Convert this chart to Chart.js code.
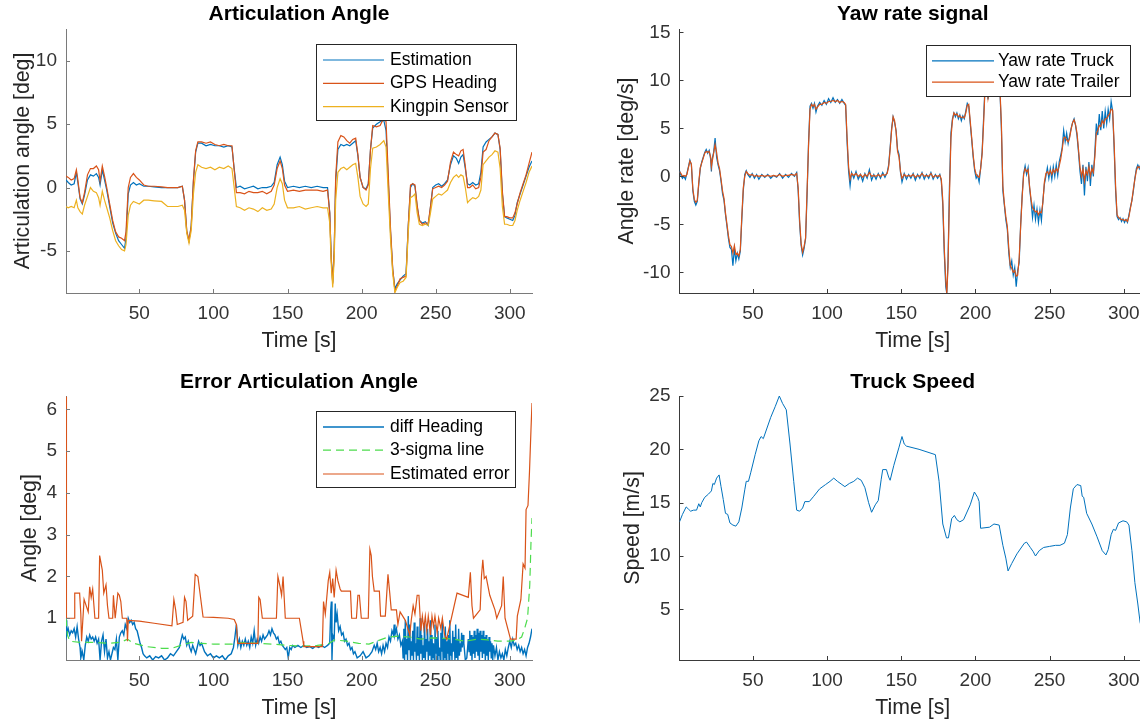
<!DOCTYPE html>
<html>
<head>
<meta charset="utf-8">
<script src="https://cdn.jsdelivr.net/npm/chart.js@4.4.0/dist/chart.umd.min.js"></script>
<style>
  html, body { margin: 0; padding: 0; background: #fff; }
  body { position: relative; width: 1140px; height: 722px; overflow: hidden; }
  canvas { position: absolute; }
</style>
</head>
<body>
<canvas id="angleChart" width="570" height="361" style="left:0;top:0"></canvas>
<canvas id="yawChart" width="590" height="361" style="left:570px;top:0"></canvas>
<canvas id="errorChart" width="570" height="361" style="left:0;top:361px"></canvas>
<canvas id="speedChart" width="590" height="361" style="left:570px;top:361px"></canvas>
<script>
// ---- data ----
const timeTicks = [50, 100, 150, 200, 250, 300];

// Articulation Angle
const angleTime = [0.5,2,4,6,7.5,8.5,10,11.5,13,15,
  17,19,21,22.5,23.5,25,26.5,28,30,32,
  34,36,38,40,41,42.5,44,46,48,50,
  53,56,60,65,69,72,76,79,80.5,82,
  83.5,85,86.5,88,89.5,92,95,98,101,104,
  107,110,112.5,114,115.5,118,121,124,127,130,
  133,136,139,141,143,145,146.5,148,150,154,
  158,162,166,170,174,177,178.5,179.5,180.5,181.5,
  182.5,184,186,188,190,192,194,196,197.5,199,
  201,203,204.5,206,207.5,210,212.5,215,216.5,218,
  219.5,221,222.5,224,226,228,230,231.5,233,234.5,
  236,237.5,239,241,243,245,246.5,248,250,252,
  254,256,258,260,262,264,265.5,267,268.5,270,
  271.5,273,275,277,279,280.5,282,284,286,288,
  290,292,293.5,295,296.5,298,300,302,303.5,305,
  307,309,311,313,315];
const angleEstimation = [0.6,0.4,0.2,0.3,1.2,0.4,-0.9,-1.3,-0.6,0.6,
  1.0,0.9,1.1,0.8,0.2,1.4,0.6,-0.2,-1.5,-2.8,
  -3.6,-4.2,-4.5,-4.8,-4.0,-0.5,0.2,0.4,0.2,0.3,
  0.1,0.1,0.05,0.0,0.0,0.0,0.0,0.1,-1.0,-3.5,
  -4.2,-3.0,0.5,2.8,3.5,3.5,3.3,3.4,3.3,3.3,
  3.2,3.3,3.2,1.5,0.0,0.1,-0.1,0.0,0.1,-0.1,
  0.0,0.0,0.1,0.4,1.8,2.4,1.8,0.5,0.0,0.1,
  0.0,0.1,0.0,0.1,0.0,0.0,-2.0,-5.5,-7.5,-5.0,
  0.5,3.0,3.4,3.3,3.4,3.3,3.5,3.7,2.5,0.8,
  0.0,-0.1,0.3,3.0,4.7,5.0,5.2,5.3,4.5,0.5,
  -3.5,-6.5,-8.0,-7.6,-7.3,-7.0,-6.8,-3.0,0.0,0.3,
  0.1,-1.5,-2.6,-2.8,-2.7,-3.0,-1.5,0.0,0.2,0.3,
  0.1,0.3,0.6,1.8,2.5,2.3,1.9,2.4,2.6,1.5,
  0.3,0.2,0.4,0.2,0.3,1.2,3.2,3.6,3.8,4.0,
  4.3,4.2,3.0,-0.5,-2.3,-2.4,-2.5,-2.6,-2.2,-1.2,
  -0.5,0.2,0.9,1.6,2.1];
const angleGps = [0.9,0.8,0.6,0.7,1.4,0.6,-0.8,-1.2,-0.4,1.0,
  1.5,1.5,1.7,1.4,0.5,1.7,0.9,0.0,-1.3,-2.6,
  -3.5,-3.9,-4.0,-4.2,-3.5,0.0,0.8,1.1,0.8,0.6,
  0.2,0.1,0.1,0.05,0.0,0.0,0.0,0.1,-1.0,-3.4,
  -4.2,-3.1,0.6,2.9,3.6,3.6,3.5,3.6,3.4,3.3,
  3.4,3.3,3.3,1.4,-0.4,-0.4,-0.5,-0.3,-0.4,-0.4,
  -0.3,-0.5,-0.3,0.2,1.5,2.1,1.5,0.2,-0.3,-0.2,
  -0.3,-0.2,-0.2,-0.2,-0.3,-0.2,-2.0,-5.6,-7.6,-5.0,
  0.8,3.6,4.1,4.0,3.7,3.5,3.8,3.9,2.6,0.8,
  0.0,-0.2,0.2,3.0,4.9,4.8,4.9,5.5,5.2,1.0,
  -3.2,-6.4,-8.2,-7.8,-7.2,-7.1,-7.0,-3.0,0.2,0.3,
  0.2,-1.4,-2.6,-2.9,-2.8,-2.8,-1.5,-0.1,0.0,0.1,
  0.0,0.2,0.5,2.0,2.8,2.6,2.5,2.9,3.0,1.7,
  0.0,0.0,0.2,-0.1,0.0,0.8,2.8,3.0,3.7,4.0,
  4.3,4.2,3.1,-0.3,-2.3,-2.3,-2.4,-2.4,-2.0,-1.3,
  -0.4,0.3,1.0,1.9,2.8];
const angleKingpin = [-1.5,-1.6,-1.5,-1.6,-1.0,-1.6,-1.9,-2.1,-1.4,-0.7,
  0.0,-0.3,-0.4,-0.8,-1.4,-0.3,-1.0,-1.6,-2.4,-3.4,
  -4.2,-4.6,-4.9,-5.0,-4.5,-2.2,-1.4,-1.1,-1.2,-1.3,
  -1.0,-1.0,-1.05,-1.1,-1.5,-1.5,-1.5,-1.4,-1.8,-3.6,
  -4.4,-3.4,-0.5,1.2,1.8,1.6,1.5,1.6,1.4,1.6,
  1.5,1.7,1.5,0.0,-1.5,-1.6,-1.8,-1.6,-1.7,-1.9,
  -1.6,-1.8,-1.7,-1.3,0.0,0.7,0.3,-1.0,-1.6,-1.6,
  -1.5,-1.7,-1.6,-1.5,-1.6,-1.6,-2.8,-6.0,-7.9,-5.6,
  -1.0,1.2,1.5,1.6,1.4,1.6,1.8,1.9,0.8,-0.7,
  -1.3,-1.5,-1.3,1.5,3.1,3.2,3.4,3.7,3.2,-0.5,
  -4.0,-6.8,-8.3,-7.9,-7.5,-7.4,-7.1,-3.5,-0.8,-0.7,
  -0.5,-2.0,-2.9,-3.0,-2.9,-3.0,-2.0,-0.9,-0.7,-0.5,
  -0.6,-0.4,-0.2,0.4,0.8,1.0,0.8,1.0,0.9,0.0,
  -1.2,-1.0,-0.8,-0.9,-0.7,-0.2,1.8,2.1,2.4,2.6,
  2.9,2.8,1.5,-1.5,-2.9,-2.9,-3.0,-3.0,-2.6,-1.8,
  -1.0,-0.3,0.4,1.2,1.7];
const angleTicks = [-5, 0, 5, 10];

// Yaw rate signal
const yawTime = [0.5,1.5,2.5,3.5,4.5,5.5,6.5,7.5,8.5,9.5,
  10.5,11.5,12.5,13.5,14.5,15.5,16.5,17.5,18.5,19.5,
  20.5,21.5,22,22.5,23.5,24.5,25.5,26.5,27.5,28.5,
  29.5,30.5,31.5,32.5,33.5,34.5,35.5,36.5,37.5,38.5,
  39.5,40.5,41.5,42.5,43.5,44.5,45.5,46.5,48,49.5,
  51,52.5,54,56,58,60,62,64,66,68,
  70,72,74,76,78,79.5,80.5,81.5,82.5,83.5,
  84.5,85.5,86.5,87.5,88.5,89.5,90.5,91.5,92.5,93.5,
  95,96.5,98,99.5,101,102.5,104,105.5,107,108.5,
  110,111.5,112.5,113.5,114.5,115.5,116.5,118,119.5,121,
  122.5,124,125.5,127,128.5,130,131.5,133,134.5,136,
  137.5,139,140.5,141.5,142.5,143.5,144.5,145.5,146.5,147.5,
  148.5,149.5,150.5,152,153.5,155,156.5,158,159.5,161,
  162.5,164,165.5,167,168.5,170,171.5,173,174.5,176,
  177,178,179,180,180.7,181.5,182.5,183.5,184.5,185.5,
  186.5,187.5,188.5,189.5,190.5,191.5,192.5,193.5,194.5,195.5,
  196.5,197.5,198.5,199.5,200.5,201.5,202.5,203.5,204.5,205.5,
  206.5,207.5,208.5,209.5,211,213,215,216.5,217.5,218.5,
  219.5,220.5,221.5,222.5,223.5,224.5,225.5,226.5,227.5,228.5,
  229.5,230.5,231.5,232.5,233.5,234.5,235.5,236.5,237.5,238.5,
  239.5,240.5,241.5,242.5,243.5,244.5,245.5,246.5,247.5,248.5,
  249.5,250.5,251.5,252.5,253.5,254.5,255.5,256.5,257.5,258.5,
  259.5,260.5,261.5,262.5,263.5,264.5,265.5,266.5,267.5,268.5,
  269.5,270.5,271.5,272.5,273.5,274.5,275.5,276.5,277.5,278.5,
  279.5,280.5,281.5,282.5,283.5,284.5,285.5,286.5,287.5,288.5,
  289.5,290.5,291.5,292.5,293.5,294.5,295.5,296.5,297.5,298.5,
  299.5,300.5,301.5,302.5,303.5,304.5,305.5,306.5,307.5,308.5,
  309.5,310.5,311.5,313,315];
const yawTruck = [0.6,0.1,-0.2,0.0,-0.3,0.3,1.0,1.7,1.2,-1.5,
  -2.6,-3.0,-2.6,-0.8,0.8,1.5,2.0,2.5,2.8,2.4,
  2.7,1.8,0.5,1.8,2.5,4.0,2.0,1.2,0.6,-0.5,
  -1.8,-2.5,-4.0,-5.2,-6.5,-7.4,-7.6,-9.3,-7.5,-8.8,
  -8.0,-8.6,-7.8,-4.5,-1.5,0.2,0.6,0.2,-0.1,0.3,
  -0.2,0.2,-0.3,0.2,-0.1,0.2,-0.2,0.1,-0.1,0.3,
  -0.2,0.2,-0.1,0.3,0.0,0.4,-1.5,-5.0,-7.2,-8.2,
  -7.5,-6.5,-2.0,3.5,7.3,7.6,7.1,7.6,6.7,7.3,
  7.7,7.4,7.9,7.5,8.1,7.7,8.2,7.7,8.0,7.6,
  8.0,7.6,7.4,3.5,0.5,-1.0,0.4,-0.2,0.5,-0.3,
  0.2,-0.5,0.3,-0.2,0.7,-0.4,0.2,-0.3,0.3,-0.2,
  0.4,-0.1,0.4,1.2,3.0,5.0,6.2,5.6,4.8,2.8,
  2.3,0.4,-0.6,0.3,-0.3,0.2,-0.2,0.3,-0.4,0.2,
  -0.2,0.4,-0.3,0.2,-0.2,0.4,-0.3,0.2,-0.2,0.2,
  -0.5,-3.0,-8.0,-11.5,-12.2,-9.0,-1.0,4.5,6.0,6.6,
  6.2,6.6,6.0,6.4,5.8,6.3,6.0,6.8,7.6,7.3,
  5.5,3.8,2.0,0.6,-0.2,0.1,-0.6,0.8,2.5,6.0,
  9.5,10.5,8.0,9.5,10.5,11.0,10.5,9.0,5.0,-1.5,
  -3.0,-4.5,-5.5,-8.0,-9.5,-8.8,-10.3,-9.5,-11.5,-9.8,
  -9.0,-5.0,-2.0,0.3,1.1,0.2,0.9,-1.2,-2.6,-4.3,
  -3.0,-4.5,-3.4,-4.8,-3.5,-4.6,-2.5,-0.8,0.0,0.9,
  -0.2,0.8,-0.3,1.0,0.0,1.2,0.1,1.5,2.2,3.0,
  4.8,3.6,4.5,3.4,4.2,5.0,5.6,6.0,5.3,4.2,
  2.5,0.5,-0.8,1.2,-2.0,1.0,-0.5,1.5,-1.0,1.2,
  0.0,2.5,5.5,4.3,6.5,4.8,6.8,5.0,6.8,5.5,
  7.0,6.0,7.8,6.8,3.0,-1.5,-4.2,-4.5,-4.3,-4.7,
  -4.4,-4.8,-4.5,-4.8,-4.0,-3.2,-2.5,-1.5,-0.2,0.8,
  1.2,0.8,1.3,1.0,1.2];
const yawTrailer = [0.5,0.3,0.0,0.1,0.0,0.2,0.9,1.6,1.3,-1.3,
  -2.4,-2.7,-2.5,-0.6,0.9,1.4,1.9,2.4,2.6,2.5,
  2.6,2.0,1.0,1.5,2.4,3.3,2.5,1.4,0.8,-0.3,
  -1.5,-2.3,-3.8,-5.0,-6.2,-7.1,-7.3,-8.0,-7.2,-8.1,
  -8.0,-8.3,-7.6,-4.2,-1.2,0.0,0.5,0.3,0.1,0.2,
  0.0,0.1,0.0,0.1,0.0,0.1,0.0,0.1,0.0,0.2,
  0.0,0.1,0.1,0.2,0.1,0.3,-1.2,-4.6,-7.0,-7.9,
  -7.3,-6.4,-1.5,3.2,7.0,7.5,7.3,7.5,7.0,7.2,
  7.5,7.5,7.7,7.6,7.8,7.8,7.9,7.8,7.9,7.7,
  7.8,7.7,7.5,4.0,1.0,-0.3,0.3,0.1,0.3,0.0,
  0.2,-0.1,0.2,0.0,0.4,0.0,0.1,0.0,0.2,0.0,
  0.2,0.1,0.3,1.0,2.8,4.8,6.2,5.8,4.7,2.6,
  2.0,0.5,-0.2,0.2,0.0,0.1,0.0,0.2,-0.1,0.1,
  0.0,0.3,0.0,0.1,0.0,0.3,-0.1,0.1,0.0,0.1,
  -0.3,-2.5,-7.5,-10.8,-12.2,-9.5,-2.0,4.0,5.8,6.6,
  6.4,6.5,6.2,6.3,6.1,6.2,6.1,6.6,7.4,7.5,
  5.8,4.0,2.2,0.8,0.2,0.0,-0.1,0.8,2.3,5.5,
  9.2,10.2,8.2,9.3,10.3,10.8,10.4,9.2,5.5,-1.0,
  -2.8,-4.2,-5.2,-7.5,-9.3,-9.6,-10.0,-9.8,-10.4,-10.3,
  -8.5,-5.2,-2.2,0.2,0.8,0.5,0.7,-1.0,-2.4,-3.3,
  -3.5,-3.7,-3.6,-4.0,-3.7,-3.8,-2.7,-0.6,0.3,0.5,
  0.2,0.6,0.2,0.7,0.4,0.8,0.5,1.1,1.8,2.8,
  4.0,4.1,3.8,3.6,4.0,4.9,5.6,5.9,5.4,4.5,
  2.8,1.0,0.0,0.8,-0.5,0.6,0.2,1.0,0.0,0.8,
  0.4,2.0,4.5,4.8,5.3,5.2,5.8,5.5,6.0,6.0,
  6.3,6.5,7.0,6.9,3.5,-1.0,-4.0,-4.3,-4.4,-4.5,
  -4.5,-4.6,-4.5,-4.7,-4.2,-3.3,-2.5,-1.3,-0.3,0.6,
  1.0,0.9,1.1,1.0,1.1];
const yawTicks = [-10, -5, 0, 5, 10, 15];

// Error Articulation Angle
const diffTime = [0.5,1,2,3,4,5,6,7,8,9,
  10,10.5,11.5,12.5,13.5,14.5,15.5,16.5,17.5,18.5,
  19.5,20.5,21.5,22.5,23.5,24.5,25.5,26.5,27.5,28.5,
  29.5,30.5,31.5,32.5,33.5,34.5,35.5,36.5,37.5,38.5,
  39.5,40.5,41.5,42.5,43.5,44.5,45.5,46.5,47.5,48.5,
  49.5,50.5,51.5,52.5,53.5,55,57,59,61,63,
  65,67,69,71,73,75,77,78,79,80,
  81,82,83,84,85,86,87,88,89,90,
  91,92,93,94,95,96,98,100,102,104,
  106,108,110,112,113.5,114.5,115.5,116.5,117.5,118.5,
  119.5,120.5,121.5,122.5,123.5,124.5,125.5,126.5,127.5,128.5,
  129.5,130.5,131.5,132.5,133.5,134.5,135.5,136.5,137.5,138.5,
  139.5,140.5,141.5,142.5,143.5,144.5,145.5,146.5,147.5,148.5,
  149.5,150.5,151.5,152.5,153.5,155,157,159,161,163,
  165,167,169,171,173,175,177,178.5,179.2,179.6,
  180,180.5,181.5,182.2,182.8,183.5,184.5,185.5,186.5,187.5,
  188.5,189.5,190.5,191.5,192.5,193.5,194.5,195.5,197,199,
  201,203,205,207,208.5,209.5,210.5,211.5,212.5,213.5,
  214.5,215.5,216.5,217.5,218.5,219.5,220.5,221.5,222,222.5,
  223.5,224.5,225.5,226.5,227.5,228,228.5,229,229.5,230,
  230.5,231,231.5,232,232.5,233,233.5,234,234.5,235,
  235.5,236,236.5,237,237.5,238,238.5,239,239.5,240,
  240.5,241,241.5,242,242.5,243,243.5,244,244.5,245,
  245.5,246,246.5,247,247.5,248,248.5,249,249.5,250,
  250.5,251,251.5,252,252.5,253,253.5,254,254.5,255,
  255.5,256,256.5,257,257.5,258,258.5,259,259.5,260,
  260.5,261,261.5,262,262.5,263,263.5,264,264.5,265,
  265.5,266,266.5,267,267.5,268,268.5,269,270,271,
  272,272.5,273,273.5,274,274.5,275,275.5,276,276.5,
  277,277.5,278,278.5,279,279.5,280,280.5,281,281.5,
  282,282.5,283,283.5,284,284.5,285,285.5,286,286.5,
  287,287.5,288,288.5,289,290,291,292,293,294,
  295,296,297,298,299,300,301,302,303,304,
  305,306,307,308,309,310,311,312,313,314,
  315];
const diffHeading = [0.95,0.6,0.75,0.6,0.7,0.65,0.75,0.55,0.8,0.5,
  0.3,0.05,0.2,0.0,0.35,0.55,0.45,0.6,0.5,0.55,
  0.45,0.55,0.4,0.5,0.0,0.45,0.6,0.2,0.5,0.05,
  0.2,0.0,0.15,0.3,0.25,0.5,0.0,0.55,0.65,0.7,
  0.6,0.85,0.75,1.0,0.9,0.95,0.85,0.9,0.75,0.7,
  0.55,0.4,0.3,0.15,0.1,0.05,0.1,0.0,0.08,0.05,
  0.1,0.0,0.05,0.15,0.1,0.2,0.3,0.45,0.6,0.5,
  0.55,0.35,0.45,0.3,0.2,0.35,0.25,0.15,0.3,0.45,
  0.35,0.4,0.3,0.2,0.15,0.1,0.15,0.05,0.1,0.05,
  0.1,0.0,0.1,0.15,0.3,0.55,0.85,0.35,0.5,0.3,
  0.45,0.35,0.5,0.35,0.45,0.3,0.55,0.4,0.7,0.35,
  0.5,0.4,0.55,0.45,0.6,0.5,0.55,0.6,0.7,0.6,
  0.75,0.65,0.6,0.5,0.55,0.4,0.45,0.35,0.3,0.25,
  0.3,0.05,0.3,0.25,0.35,0.3,0.35,0.3,0.35,0.3,
  0.32,0.28,0.33,0.3,0.35,0.3,0.35,0.4,1.2,1.4,
  0.0,0.6,0.5,1.35,0.9,1.1,0.7,0.8,0.6,0.65,
  0.45,0.5,0.35,0.4,0.25,0.3,0.15,0.2,0.05,0.1,
  0.2,0.05,0.1,0.2,0.35,0.25,0.4,0.2,0.3,0.15,
  0.35,0.2,0.4,0.3,0.55,0.45,0.7,0.6,0.85,0.6,
  0.75,0.5,0.6,0.35,0.45,0.05,0.75,0.0,0.95,0.15,
  0.5,0.0,1.05,0.25,0.85,0.0,0.45,0.1,0.7,0.0,
  0.9,0.2,0.4,0.0,0.8,0.1,0.55,0.0,1.0,0.15,
  0.6,0.0,0.35,0.05,0.9,0.0,0.5,0.2,0.75,0.0,
  0.45,0.1,0.95,0.0,0.6,0.05,0.4,0.0,0.85,0.15,
  0.55,0.0,0.7,0.1,0.3,0.0,0.65,0.2,0.9,0.0,
  0.5,0.05,0.8,0.0,0.45,0.15,0.6,0.0,0.95,0.1,
  0.4,0.0,0.7,0.2,0.55,0.0,0.85,0.05,0.5,0.0,
  0.75,0.1,0.4,0.2,0.65,0.3,0.6,0.4,0.0,0.05,
  0.5,0.2,0.7,0.1,0.6,0.0,0.55,0.15,0.7,0.05,
  0.6,0.2,0.75,0.1,0.65,0.0,0.7,0.2,0.6,0.05,
  0.7,0.15,0.55,0.0,0.6,0.1,0.5,0.0,0.55,0.2,
  0.45,0.05,0.4,0.0,0.35,0.1,0.3,0.0,0.2,0.05,
  0.15,0.0,0.25,0.1,0.3,0.45,0.3,0.5,0.35,0.4,
  0.25,0.35,0.2,0.3,0.15,0.25,0.1,0.3,0.4,0.55,
  0.75];
const sigmaTime = [0.5,1.5,3,10,20,30,38,42,46,55,
  65,72,78,85,92,100,115,120,130,140,
  150,160,170,177,182,190,198,205,210,218,
  225,232,240,248,255,262,270,278,285,292,
  300,305,308,310,312,313.5,314.3,315];
const sigmaLine = [1.0,0.6,0.45,0.42,0.42,0.4,0.43,0.5,0.4,0.32,
  0.28,0.28,0.35,0.42,0.4,0.38,0.38,0.42,0.4,0.38,
  0.35,0.33,0.35,0.38,0.48,0.45,0.4,0.38,0.45,0.55,
  0.57,0.55,0.5,0.53,0.52,0.5,0.45,0.5,0.48,0.45,
  0.45,0.48,0.55,0.75,1.0,1.8,2.8,3.4];
const errTime = [0.5,0.8,6,6.4,9.7,10.5,11,12.7,15.5,16.5,
  17.5,18.5,20,22.5,23.2,25,26,27.5,28.5,29.5,
  32,32.5,33.7,35.5,36.5,37.5,38.5,41.5,42,42.5,
  50,60,72,73.3,74.5,75.6,79.5,80.5,81.5,82.6,
  86,87.7,89.5,93,100,110,114,115.5,116.4,130,
  130.6,131.5,133,142.5,143.5,145,146,147,148.5,158,
  160.5,161,173.5,174.3,175.5,177.5,178.5,179.5,180.5,181.5,
  182.8,184,185.5,186.3,192.5,193.3,196.5,197.5,198.5,199.8,
  204.5,205.6,206.5,207.3,208.5,212,212.8,216,217.8,219,
  220,223.5,224.5,226,229.5,232.5,233.5,234.8,236,237.5,
  238.7,240,241,242,243,244,245,246.5,247.5,248.5,
  249.5,251,252,253.5,254.5,256,257.4,264.4,272,273.4,
  274.5,275.5,280,280.9,281.8,282.8,284,286.5,290,291.2,
  294.5,295.6,296.8,300.5,304.3,305.1,307.5,309,310.3,311,
  312.3,313.3,314.3,315];
const errEstimated = [6.3,1.0,1.0,1.6,1.6,1.1,0.45,1.45,1.15,1.75,
  1.5,1.7,1.0,1.0,2.5,2.15,1.6,1.8,1.3,1.0,
  1.0,1.55,1.0,1.6,1.55,1.4,1.0,1.0,0.45,0.95,
  0.93,0.88,0.82,1.45,1.2,0.85,0.9,1.5,1.4,0.95,
  1.05,2.05,2.0,1.03,1.02,1.0,0.97,0.85,0.4,0.4,
  1.5,1.45,1.0,1.0,2.0,1.75,1.55,2.0,1.0,1.0,
  0.45,0.32,0.32,1.4,1.1,1.9,2.1,1.6,1.95,1.5,
  2.15,1.9,1.7,1.65,1.65,1.0,1.0,1.55,1.55,1.0,
  1.0,2.65,2.5,2.0,1.65,1.65,1.05,1.05,2.05,1.6,
  1.2,1.2,0.85,1.15,0.95,0.6,0.95,1.3,1.1,1.55,
  1.55,0.7,1.05,0.75,1.05,0.7,1.05,0.6,1.05,0.8,
  1.05,0.65,1.0,0.75,1.0,0.6,0.5,1.6,1.5,2.1,
  1.3,1.0,1.2,2.0,2.4,1.95,2.0,1.55,1.2,1.0,
  1.3,2.0,1.0,0.5,0.5,1.05,1.45,2.3,2.2,3.6,
  3.7,4.5,5.5,6.15];
const errorTicks = [1, 2, 3, 4, 5, 6];

// Truck Speed
const speedTime = [0.5,2.5,5,6.5,8,10,12,13.5,14.5,15.5,
  17.5,20,22,23,24,25.5,27.2,28.5,30,31.5,
  33,34.5,36.5,38.5,40.5,42.5,44.5,45.5,47,48.5,
  51.5,54,55.5,57,59.5,62,65,67.8,70,72.5,
  75,77.5,79.5,81.5,83.5,85,88,91,95,99,
  102,104.5,107,110,112,115,118,120.5,123,125.5,
  128,130,132.5,134.5,136.5,137.5,140,141.5,142.5,145,
  148.5,150.5,152,153.5,162,173,175.5,178,180.5,181.8,
  184,185.8,187.5,189.5,192,196.5,199.3,201.5,202.5,203.5,
  209.5,212.5,216,218.5,220.5,222,224.5,228,233,234.5,
  237,239,240.5,243,246,250,254,257,260,262,
  264,266,268.5,271,272,273,275,278.5,282,285.5,
  288,289.5,291.5,293,294.5,296.5,299.5,302,303.5,305.5,
  307.5,309.5,311,315];
const speedVals = [13.2,13.9,14.6,14.4,14.2,14.3,14.3,14.9,14.6,15.0,
  15.5,15.8,16.1,16.8,16.7,17.3,17.6,16.5,15.3,14.0,
  13.9,13.1,12.9,12.8,13.2,14.5,16.2,17.0,17.0,17.8,
  19.5,20.8,21.2,21.0,22.0,23.0,24.0,25.0,24.3,23.7,
  20.5,17.0,14.3,14.2,14.5,15.1,15.1,15.6,16.3,16.7,
  17.0,17.3,17.0,16.7,16.5,16.8,17.0,17.3,17.1,16.4,
  15.0,14.1,14.8,15.2,17.2,18.1,18.1,17.4,17.1,18.5,
  20.2,21.2,20.5,20.3,20.0,19.5,17.0,13.0,11.7,11.7,
  13.5,13.8,13.4,13.2,13.4,14.8,16.0,15.5,15.1,12.6,
  12.7,13.0,12.9,11.0,9.8,8.6,9.3,10.2,11.2,11.3,
  10.8,10.4,10.0,10.5,10.8,10.9,11.0,11.0,11.2,12.0,
  14.5,16.3,16.7,16.6,15.6,15.5,14.0,13.0,11.8,10.5,
  10.1,10.6,12.0,12.5,12.4,13.1,13.3,13.2,12.9,10.5,
  7.5,5.5,3.8,1.5];
const speedTicks = [5, 10, 15, 20, 25];

// ---- helpers ----
const FONT = "'Liberation Sans', Arial, Helvetica, sans-serif";
Chart.defaults.font.family = FONT;
const BLUE = '#0072BD', ORANGE = '#D95319', YELLOW = '#EDB120', GREEN = '#4ddc4d';

function points(xs, ys) {
    return xs.map((x, i) => ({ x: x, y: ys[i] }));
}

// title centred over the plot area, like matlab does it
const panelTitle = {
    id: 'panelTitle',
    afterDraw(chart, args, opts) {
        const { ctx, chartArea } = chart;
        ctx.save();
        ctx.font = 'bold 21px ' + FONT;
        ctx.fillStyle = '#000';
        ctx.textAlign = 'center';
        ctx.textBaseline = 'middle';
        ctx.fillText(opts.text, (chartArea.left + chartArea.right) / 2, opts.y);
        ctx.restore();
    }
};

// small tick marks pointing into the axes
const innerTicks = {
    id: 'innerTicks',
    afterDatasetsDraw(chart, args, opts) {
        const { ctx, chartArea, scales } = chart;
        ctx.save();
        ctx.strokeStyle = opts.color;
        ctx.lineWidth = 1;
        ctx.beginPath();
        scales.x.ticks.forEach(t => {
            const px = Math.round(scales.x.getPixelForValue(t.value)) + 0.5;
            ctx.moveTo(px, chartArea.bottom);
            ctx.lineTo(px, chartArea.bottom - 4);
        });
        scales.y.ticks.forEach(t => {
            const py = Math.round(scales.y.getPixelForValue(t.value)) + 0.5;
            ctx.moveTo(chartArea.left, py);
            ctx.lineTo(chartArea.left + 4, py);
        });
        ctx.stroke();
        ctx.restore();
    }
};

// boxed legend inside the axes
const boxLegend = {
    id: 'boxLegend',
    afterDraw(chart, args, opts) {
        if (!opts.rows) return;
        const ctx = chart.ctx;
        ctx.save();
        ctx.fillStyle = '#fff';
        ctx.fillRect(opts.x, opts.y, opts.w, opts.h);
        ctx.strokeStyle = '#262626';
        ctx.lineWidth = 1;
        ctx.strokeRect(opts.x + 0.5, opts.y + 0.5, opts.w, opts.h);
        ctx.font = '17.5px ' + FONT;
        ctx.textBaseline = 'middle';
        chart.data.datasets.forEach((ds, i) => {
            const ry = opts.rows[i];
            ctx.strokeStyle = ds.borderColor;
            ctx.lineWidth = ds.borderWidth;
            ctx.setLineDash(ds.borderDash || []);
            ctx.beginPath();
            ctx.moveTo(opts.lx0, ry);
            ctx.lineTo(opts.lx1, ry);
            ctx.stroke();
            ctx.setLineDash([]);
            ctx.fillStyle = '#000';
            ctx.fillText(ds.label, opts.tx, ry);
        });
        ctx.restore();
    }
};

function line(label, xs, ys, color, order, extra) {
    return Object.assign({
        label: label,
        data: points(xs, ys),
        borderColor: color,
        borderWidth: 1.2,
        pointRadius: 0,
        tension: 0,
        fill: false,
        order: order
    }, extra || {});
}

function makeChart(id, o) {
    const ctx = document.getElementById(id).getContext('2d');
    return new Chart(ctx, {
        type: 'line',
        data: { datasets: o.datasets },
        plugins: [innerTicks, boxLegend, panelTitle],
        options: {
            responsive: false,
            animation: false,
            events: [],
            layout: {
                autoPadding: false,
                padding: { left: 0, right: o.padRight, top: o.padTop, bottom: 0 }
            },
            scales: {
                x: {
                    type: 'linear',
                    min: 0.5,
                    max: 315,
                    afterBuildTicks: s => { s.ticks = timeTicks.map(v => ({ value: v })); },
                    afterFit: s => { s.height = o.xHeight; },
                    grid: { display: false, drawTicks: false },
                    border: { display: true, color: o.axisColor, width: 1 },
                    ticks: { color: '#333', padding: 9, font: { size: 19 } },
                    title: {
                        display: true, text: 'Time [s]', color: '#262626',
                        font: { size: 21.3 }, padding: { top: 0, bottom: o.xTitlePad }
                    }
                },
                y: {
                    type: 'linear',
                    min: o.yMin,
                    max: o.yMax,
                    afterBuildTicks: s => { s.ticks = o.yTicks.map(v => ({ value: v })); },
                    afterFit: s => { s.width = o.yWidth; },
                    grid: { display: false, drawTicks: false },
                    border: { display: true, color: o.axisColor, width: 1 },
                    ticks: { color: '#333', padding: 9, font: { size: 19 } },
                    title: {
                        display: true, text: o.yLabel, color: '#262626',
                        font: { size: 21.3 }, padding: { top: o.yTitlePad, bottom: 0 }
                    }
                }
            },
            plugins: {
                legend: { display: false },
                tooltip: { enabled: false },
                panelTitle: { text: o.title, y: o.titleY },
                innerTicks: { color: o.axisColor },
                boxLegend: o.legend || {}
            }
        }
    });
}

// ---- the four panels ----
makeChart('angleChart', {
    title: 'Articulation Angle', titleY: 14.5,
    padTop: 29, padRight: 38, xHeight: 68, xTitlePad: 6.7,
    yWidth: 66, yTitlePad: 10, yLabel: 'Articulation angle [deg]',
    yMin: -8.33, yMax: 12.52, yTicks: angleTicks, axisColor: '#7a7a7a',
    datasets: [
        line('Estimation', angleTime, angleEstimation, BLUE, 2),
        line('GPS Heading', angleTime, angleGps, ORANGE, 1),
        line('Kingpin Sensor', angleTime, angleKingpin, YELLOW, 0)
    ],
    legend: { x: 316, y: 44, w: 200, h: 76, rows: [60, 83.3, 106.7], lx0: 323, lx1: 384, tx: 390 }
});

makeChart('yawChart', {
    title: 'Yaw rate signal', titleY: 14.5,
    padTop: 29, padRight: 14, xHeight: 68, xTitlePad: 6.7,
    yWidth: 109.5, yTitlePad: 44.5, yLabel: 'Angle rate [deg/s]',
    yMin: -12.15, yMax: 15.35, yTicks: yawTicks, axisColor: '#3a3a3a',
    datasets: [
        line('Yaw rate Truck', yawTime, yawTruck, BLUE, 1),
        line('Yaw rate Trailer', yawTime, yawTrailer, ORANGE, 0)
    ],
    legend: { x: 356, y: 45, w: 204, h: 51, rows: [60.8, 82.1], lx0: 362, lx1: 424, tx: 428 }
});

makeChart('errorChart', {
    title: 'Error Articulation Angle', titleY: 21,
    padTop: 35, padRight: 38, xHeight: 62, xTitlePad: 0.9,
    yWidth: 66, yTitlePad: 17.4, yLabel: 'Angle [deg]',
    yMin: 0, yMax: 6.32, yTicks: errorTicks, axisColor: '#7a7a7a',
    datasets: [
        line('diff Heading', diffTime, diffHeading, BLUE, 2, { borderWidth: 1.4 }),
        line('3-sigma line', sigmaTime, sigmaLine, GREEN, 1, { borderDash: [8, 5] }),
        line('Estimated error', errTime, errEstimated, ORANGE, 0)
    ],
    legend: { x: 316, y: 50, w: 199, h: 76, rows: [66, 89.1, 113], lx0: 323, lx1: 384, tx: 390 }
});

makeChart('speedChart', {
    title: 'Truck Speed', titleY: 21,
    padTop: 35, padRight: 14, xHeight: 62, xTitlePad: 0.9,
    yWidth: 109.5, yTitlePad: 50.5, yLabel: 'Speed [m/s]',
    yMin: 0.25, yMax: 25, yTicks: speedTicks, axisColor: '#3a3a3a',
    datasets: [
        line('Speed', speedTime, speedVals, BLUE, 0, { borderWidth: 1 })
    ]
});
</script>
</body>
</html>
